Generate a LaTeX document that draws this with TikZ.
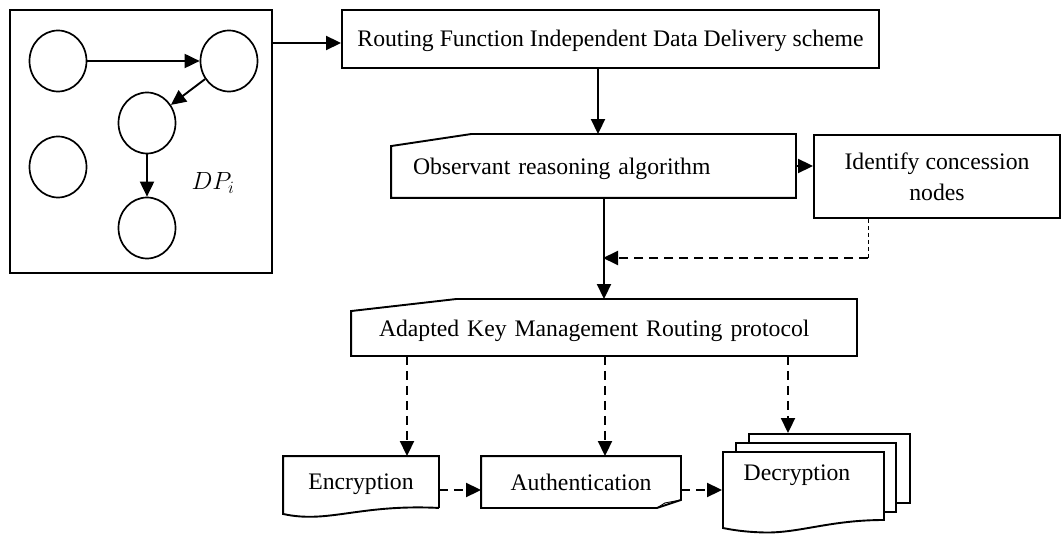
\documentclass[tikz,border=0pt]{standalone}
\usepackage{fontspec}
\setmainfont{Liberation Serif}
\usetikzlibrary{arrows.meta,shapes.geometric,calc}
\begin{document}
\begin{tikzpicture}[x=1pt,y=-1pt,line width=1.9pt,
  arr/.style={-{Triangle[length=15pt,width=14pt]}},
  dsh/.style={dash pattern=on 9pt off 6pt},
  txt/.style={font=\fontsize{23.7}{31}\selectfont},
  low/.style={text height=24pt,text depth=6pt},
  circ/.style={draw,ellipse,line width=1.7pt,minimum width=57pt,minimum height=61pt,inner sep=0pt},
  box/.style={draw,rectangle,inner sep=0pt},
  hid/.style={rectangle,inner sep=0pt}]
\useasboundingbox (0,0) rectangle (1062,534);

% left panel
\node[box,minimum width=262pt,minimum height=263pt] (dp) at (141,141.5) {};
\node[circ] (c1) at (58,61) {};
\node[circ] (c2) at (229,61) {};
\node[circ] (c3) at (147,123) {};
\node[circ] (c4) at (58,167) {};
\node[circ] (c5) at (147,228) {};
\node[font=\fontsize{23}{26}\selectfont] (dpl) at (213,183) {$DP_i$};
\draw[arr] (c1) -- (c2);
\draw[arr] (c2) -- (c3);
\draw[arr] (c3) -- (c5);

% top box
\node[box,txt,minimum width=537pt,minimum height=58pt,text height=20pt,text depth=5pt] (rf) at (610.5,39) {Routing Function Independent Data Delivery scheme};

% observant
\node[hid,txt,low,minimum height=62pt,text width=361pt,align=left,inner xsep=21pt] (obs) at (593.5,166) {Observant reasoning algorithm};
\draw (obs.south west) -- (obs.south east) -- (obs.north east) -- ([xshift=80pt]obs.north west) -- ([yshift=-12pt]obs.north west) -- cycle;

% identify
\node[box,txt,align=center,minimum width=246pt,minimum height=83pt] (idf) at (937,176.5) {Identify concession\\nodes};

% adapted
\node[hid,txt,low,minimum height=55pt,text width=450pt,align=left,inner xsep=27pt] (adp) at (604,327.5) {Adapted Key Management Routing protocol};
\draw (adp.south west) -- (adp.south east) -- (adp.north east) -- ([xshift=105pt]adp.north west) -- ([yshift=-12pt]adp.north west) -- cycle;

% encryption
\node[hid,txt,minimum width=154pt,minimum height=50pt,text height=20pt,text depth=5pt] (enc) at (361,482) {Encryption};
\draw (enc.south east) -- (enc.north east) -- (enc.north west) -- ($(enc.south west)+(0,6)$)
  .. controls ($(enc.south west)+(45,16)$) and ($(enc.south east)+(-80,-4)$) .. (enc.south east);

% authentication
\node[hid,txt,minimum width=198pt,minimum height=50pt] (aut) at (581,482) {Authentication};
\draw (aut.north west) -- (aut.north east) -- ($(aut.south east)+(0,-8)$) -- ($(aut.south east)+(-24,0)$) -- (aut.south west) -- cycle;
\draw[line width=0.9pt] ($(aut.south east)+(-24,0)$) -- ($(aut.south east)+(-16,-5)$) -- ($(aut.south east)+(0,-8)$);

% decryption (multi-document)
\draw[fill=white] (749,434) rectangle (910,503);
\draw[fill=white] (736,443) rectangle (896,512);
\draw[fill=white] (723,452) -- (884,452) -- (884,520) .. controls (830,520) and (800,533) .. (765,532.5) .. controls (745,532) and (733,530) .. (723,528) -- cycle;
\node[hid,minimum width=161pt,minimum height=68pt] (dec) at (803.5,486) {};
\node[txt,inner sep=0pt] (dect) at (797,475) {Decryption};

% connectors
\draw[arr] ($(rf.west -| dp.east)+(0,4)$) -- ($(rf.west)+(0,4)$);
\path ($(rf.south)+(-12.5,0)$) coordinate (t1);
\draw[arr] (t1) -- (t1 |- obs.north);
\draw[arr] (obs.east) -- (obs.east -| idf.west);
\draw[arr] (adp.north |- obs.south) -- (adp.north);
\coordinate (k) at (868,258);
\draw[line width=0.9pt,dash pattern=on 4pt off 3pt] (idf.south -| k) -- (k);
\draw[arr,dsh,shorten >=-1pt] (k) -- (k -| adp.north);

\path ($(enc.north)+(46,0)$) coordinate (e1);
\path ($(aut.north)+(24,0)$) coordinate (e2);
\path ($(dec.north)+(-15.5,-18)$) coordinate (e3);
\draw[arr,dsh] (e1 |- adp.south) -- (e1);
\draw[arr,dsh] (e2 |- adp.south) -- (e2);
\draw[arr,dsh] (e3 |- adp.south) -- (e3);
\draw[arr,dsh] ($(enc.east)+(0,8)$) -- ($(aut.west)+(0,8)$);
\path ($(aut.east)+(0,8)$) coordinate (e4);
\draw[arr,dsh] (e4) -- (e4 -| dec.west);
\end{tikzpicture}
\end{document}
